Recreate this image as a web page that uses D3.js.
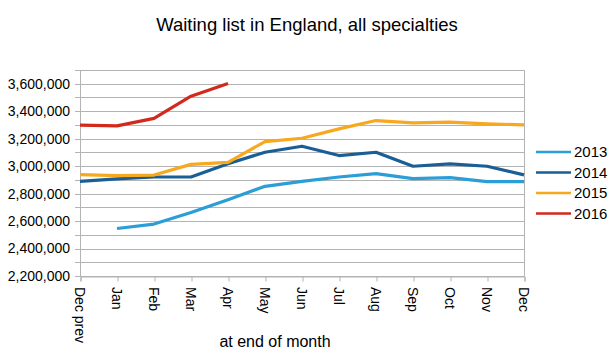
<!DOCTYPE html>
<html>
<head>
<meta charset="utf-8">
<script src="https://cdn.jsdelivr.net/npm/d3@7"></script>
<style>
  html, body { margin: 0; padding: 0; background: #fff; }
  svg { display: block; font-family: "Liberation Sans", Arial, Helvetica, sans-serif; }
</style>
</head>
<body>
<svg id="chart" width="615" height="359"></svg>
<script>
const categories = ["Dec prev", "Jan", "Feb", "Mar", "Apr", "May", "Jun", "Jul", "Aug", "Sep", "Oct", "Nov", "Dec"];
const seriesNames = ["2013", "2014", "2015", "2016"];
const values2013 = [null, 2546000, 2578000, 2662000, 2756000, 2853000, 2889000, 2921000, 2945000, 2909000, 2916000, 2887000, 2887000];
const values2014 = [2889000, 2907000, 2921000, 2921000, 3018000, 3101000, 3145000, 3077000, 3101000, 2999000, 3016000, 2999000, 2936000];
const values2015 = [2938000, 2931000, 2935000, 3013000, 3028000, 3179000, 3203000, 3271000, 3332000, 3315000, 3320000, 3308000, 3300000];
const values2016 = [3298000, 3293000, 3348000, 3509000, 3602000, null, null, null, null, null, null, null, null];
const colors = ["#2b9ed8", "#195e97", "#f8a81e", "#d2291d"];
const yTicks = [2200000, 2400000, 2600000, 2800000, 3000000, 3200000, 3400000, 3600000];
const yMin = 2200000, yMax = 3700000;

const seriesValues = [values2013, values2014, values2015, values2016];

const svg = d3.select("#chart");
const pLeft = 80, pRight = 524, pTop = 70, pBottom = 276;

const x = d3.scalePoint().domain(categories).range([pLeft, pRight]);
const y = d3.scaleLinear().domain([yMin, yMax]).range([pBottom, pTop]);

// title
svg.append("text").attr("x", 307).attr("y", 31)
  .attr("text-anchor", "middle").attr("font-size", 18.5).attr("fill", "#000")
  .text("Waiting list in England, all specialties");

// gridlines every 100k
const grid = d3.range(yMin, yMax + 1, 100000);
svg.append("g").selectAll("line").data(grid).join("line")
  .attr("x1", pLeft - 5).attr("x2", pRight)
  .attr("y1", d => Math.round(y(d)) + 0.5).attr("y2", d => Math.round(y(d)) + 0.5)
  .attr("stroke", "#b3b3b3").attr("stroke-width", 1);

// vertical borders
[pLeft, pRight].forEach(xx => {
  svg.append("line").attr("x1", xx + 0.5).attr("x2", xx + 0.5)
    .attr("y1", pTop).attr("y2", pBottom + 0.5)
    .attr("stroke", "#b3b3b3");
});

// x axis with ticks
const xAxis = d3.axisBottom(x).tickSize(5).tickFormat("");
const gx = svg.append("g").attr("transform", `translate(0.5,${Math.round(pBottom) + 0.5})`).call(xAxis);
gx.select(".domain").attr("stroke", "#b3b3b3");
gx.selectAll(".tick line").attr("stroke", "#b3b3b3");

// x labels rotated
svg.append("g").selectAll("text").data(categories).join("text")
  .attr("transform", d => `translate(${x(d)},287) rotate(90)`)
  .attr("dy", "0.35em")
  .attr("font-size", 14).attr("fill", "#000")
  .text(d => d);

// y labels
const fmt = d3.format(",");
svg.append("g").selectAll("text").data(yTicks).join("text")
  .attr("x", 70).attr("y", d => y(d)).attr("dy", "0.35em")
  .attr("text-anchor", "end").attr("font-size", 14).attr("fill", "#000")
  .text(d => fmt(d));

// axis title
svg.append("text").attr("x", 275).attr("y", 347)
  .attr("text-anchor", "middle").attr("font-size", 16).attr("fill", "#000")
  .text("at end of month");

// lines
const line = d3.line()
  .defined(d => d.v != null)
  .x(d => x(d.c)).y(d => y(d.v));
seriesValues.forEach((vals, i) => {
  const data = categories.map((c, j) => ({ c, v: vals[j] }));
  svg.append("path").datum(data)
    .attr("d", line).attr("fill", "none")
    .attr("stroke", colors[i]).attr("stroke-width", 3.2)
    .attr("stroke-linejoin", "round");
});

// legend
const lg = svg.append("g");
seriesNames.forEach((name, i) => {
  const ly = 152 + i * 20.5;
  lg.append("line").attr("x1", 536).attr("x2", 571).attr("y1", ly).attr("y2", ly)
    .attr("stroke", colors[i]).attr("stroke-width", 2.5);
  lg.append("text").attr("x", 574).attr("y", ly).attr("dy", "0.35em")
    .attr("font-size", 15).attr("fill", "#000").text(name);
});
</script>
</body>
</html>
